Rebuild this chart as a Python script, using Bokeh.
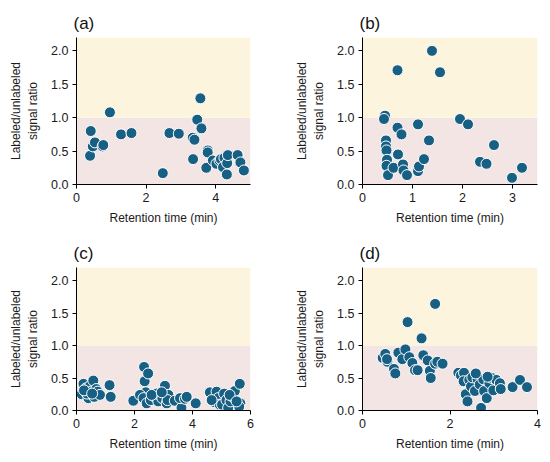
from bokeh.plotting import figure
from bokeh.models import BoxAnnotation, Range1d, FixedTicker, Title, NumeralTickFormatter
from bokeh.layouts import gridplot
from bokeh.embed import file_html
from bokeh.resources import INLINE

# ---- data ----
a_x = [0.39, 0.41, 0.47, 0.53, 0.75, 0.77, 0.96, 1.28, 1.58, 2.48, 2.67, 2.94,
       3.34, 3.39, 3.35, 3.47, 3.56, 3.59, 3.77, 3.77, 3.73, 3.92, 4.02, 4.11,
       4.15, 4.25, 4.21, 4.33, 4.35, 4.32, 4.63, 4.71, 4.81]
a_y = [0.43, 0.80, 0.57, 0.63, 0.57, 0.59, 1.08, 0.75, 0.77, 0.17, 0.77, 0.76,
       0.70, 0.67, 0.38, 0.97, 1.29, 0.84, 0.51, 0.48, 0.25, 0.36, 0.31, 0.36,
       0.38, 0.40, 0.26, 0.32, 0.44, 0.15, 0.44, 0.33, 0.21]

b_x = [0.45, 0.43, 0.47, 0.47, 0.48, 0.49, 0.48, 0.51, 0.62, 0.70, 0.70, 0.71,
       0.78, 0.81, 0.82, 0.89, 1.11, 1.11, 1.13, 1.23, 1.33, 1.39, 1.55, 1.95,
       2.11, 2.35, 2.48, 2.63, 2.99, 3.19]
b_y = [1.03, 0.98, 0.66, 0.57, 0.51, 0.37, 0.28, 0.14, 0.25, 1.71, 0.85, 0.45,
       0.75, 0.30, 0.21, 0.14, 0.90, 0.20, 0.27, 0.38, 0.66, 2.00, 1.68, 0.98,
       0.90, 0.34, 0.31, 0.59, 0.10, 0.25]

c_x = [0.18, 0.24, 0.33, 0.41, 0.47, 0.49, 0.58, 0.61, 0.68, 0.73, 0.81, 0.36,
       1.14, 1.18, 0.26, 0.54,
       1.96, 2.33, 2.35, 2.47, 2.39, 2.19, 2.31, 2.42, 2.56, 2.71, 2.82, 2.76,
       2.96, 3.05, 3.11, 3.17, 3.14, 3.39, 3.62, 3.57, 3.74, 3.80, 4.11, 2.59, 2.94,
       4.60, 4.75, 4.83, 4.89, 4.94, 5.02, 5.09, 5.17, 5.23, 5.31, 5.40, 5.46,
       5.63, 5.65, 5.61, 4.66, 5.28, 5.52]
c_y = [0.25, 0.41, 0.34, 0.19, 0.38, 0.29, 0.46, 0.21, 0.33, 0.29, 0.24, 0.26,
       0.39, 0.21, 0.31, 0.26,
       0.15, 0.67, 0.45, 0.57, 0.28, 0.24, 0.19, 0.11, 0.16, 0.21, 0.14, 0.26,
       0.19, 0.38, 0.11, 0.24, 0.16, 0.15, 0.04, 0.19, 0.18, 0.21, 0.11, 0.24, 0.28,
       0.28, 0.13, 0.29, 0.19, 0.09, 0.09, 0.26, 0.16, 0.04, 0.14, 0.21, 0.30,
       0.41, 0.11, 0.06, 0.16, 0.24, 0.14]

d_x = [0.46, 0.52, 0.57, 0.56, 0.72, 0.75, 0.82, 0.91, 0.98, 1.03, 1.07, 1.14,
       1.20, 1.26, 1.35, 1.39, 1.49, 1.54, 1.56, 1.66, 1.66, 1.71, 1.83, 2.19,
       2.25, 2.32, 2.31, 2.36, 2.40, 2.44, 2.48, 2.51, 2.57, 2.63, 2.68, 2.71,
       2.76, 2.78, 2.84, 2.90, 2.96, 2.99, 3.06, 3.14, 3.16, 3.43, 3.60, 3.76,
       2.59, 2.86]
d_y = [0.81, 0.87, 0.75, 0.79, 0.64, 0.57, 0.89, 0.79, 0.94, 1.36, 0.82, 0.73,
       0.62, 0.62, 1.11, 0.85, 0.77, 0.61, 0.50, 1.64, 0.72, 0.75, 0.72, 0.58,
       0.54, 0.58, 0.45, 0.25, 0.14, 0.47, 0.37, 0.51, 0.30, 0.48, 0.40, 0.04,
       0.48, 0.30, 0.19, 0.42, 0.50, 0.31, 0.47, 0.42, 0.33, 0.36, 0.47, 0.36,
       0.57, 0.52]

panels = [
    ("(a)", a_x, a_y, 5, [0, 2, 4]),
    ("(b)", b_x, b_y, 3.5, [0, 1, 2, 3]),
    ("(c)", c_x, c_y, 6, [0, 2, 4, 6]),
    ("(d)", d_x, d_y, 4, [0, 2, 4]),
]
y_ticks = [0.0, 0.5, 1.0, 1.5, 2.0]

FONT = "Liberation Sans"
MARK = "#175f83"
PINK = "#f3e5e4"
YELLOW = "#fdf4de"
TXT = "#1a1a1a"


def make(i, title, xs, ys, xmax, xt):
    col = i % 2
    rowi = i // 2
    width = 275 if col == 0 else 267
    height = 237 if rowi == 0 else 216
    p = figure(width=width, height=height, output_backend="svg",
               toolbar_location=None,
               x_range=Range1d(0, xmax), y_range=Range1d(0, 2.2))
    p.min_border_left = 76 if col == 0 else 87
    p.min_border_right = 25 if col == 0 else 5
    p.min_border_top = 37 if rowi == 0 else 28
    p.min_border_bottom = 53 if rowi == 0 else 37
    p.outline_line_color = None
    p.grid.visible = False
    p.background_fill_color = "white"
    p.border_fill_color = "white"

    p.add_layout(BoxAnnotation(bottom=0, top=1.0, fill_color=PINK,
                               fill_alpha=1, line_color=None, level="underlay"))
    p.add_layout(BoxAnnotation(bottom=1.0, top=2.2, fill_color=YELLOW,
                               fill_alpha=1, line_color=None, level="underlay"))

    p.scatter(xs, ys, size=11, fill_color=MARK, line_color="white",
              line_width=1)

    p.xaxis.ticker = FixedTicker(ticks=xt)
    p.yaxis.ticker = FixedTicker(ticks=y_ticks)
    p.yaxis.formatter = NumeralTickFormatter(format="0.0")
    p.xaxis.axis_label = "Retention time (min)"
    p.yaxis.axis_label = "Labeled/unlabeled\nsignal ratio"
    for ax in (p.xaxis, p.yaxis):
        ax.axis_line_color = "black"
        ax.axis_line_width = 1
        ax.major_tick_line_color = "black"
        ax.major_tick_out = 4
        ax.major_tick_in = 0
        ax.minor_tick_line_color = None
        ax.major_label_text_font = FONT
        ax.major_label_text_font_size = "12.5px"
        ax.major_label_text_color = TXT
        ax.axis_label_text_font = FONT
        ax.axis_label_text_font_size = "12px"
        ax.axis_label_text_font_style = "normal"
        ax.axis_label_text_color = TXT
    p.xaxis.axis_label_standoff = 6
    p.yaxis.axis_label_standoff = 8
    p.xaxis.major_label_standoff = 4
    p.yaxis.major_label_standoff = 4

    p.title = Title(text=title, align="left", offset=-3,
                    text_font=FONT, text_font_size="17px",
                    text_font_style="normal", text_color="#111111",
                    standoff=9)
    return p


figs = [make(i, *pn) for i, pn in enumerate(panels)]
grid = gridplot([[figs[0], figs[1]], [figs[2], figs[3]]],
                toolbar_location=None)

open("out.html", "w").write(file_html(grid, INLINE))
